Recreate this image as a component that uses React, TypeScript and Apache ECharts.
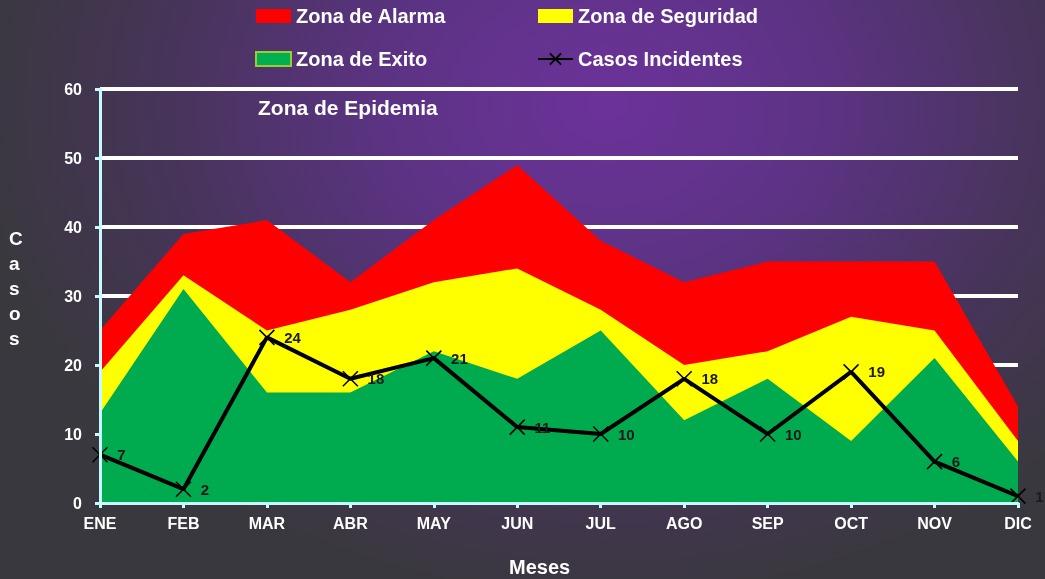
import React, { useEffect, useRef } from "react";
import * as echarts from "echarts";

const months = ["ENE", "FEB", "MAR", "ABR", "MAY", "JUN", "JUL", "AGO", "SEP", "OCT", "NOV", "DIC"];
const alarma = [25, 39, 41, 32, 41, 49, 38, 32, 35, 35, 35, 14];
const seguridad = [19, 33, 25, 28, 32, 34, 28, 20, 22, 27, 25, 9];
const exito = [13, 31, 16, 16, 22, 18, 25, 12, 18, 9, 21, 6];
const casos = [7, 2, 24, 18, 21, 11, 10, 18, 10, 19, 6, 1];
const yTicks = { min: 0, max: 60, interval: 10 };

const FONT = "Arial, 'Liberation Sans', sans-serif";
const AXIS_COLOR = "#c6fbff";

export default function App() {
  const ref = useRef<HTMLDivElement>(null);
  useEffect(() => {
    if (!ref.current) return;
    const chart = echarts.init(ref.current, null, { renderer: "svg" });
    const legendText = { color: "#ffffff", fontSize: 20, fontWeight: "bold" as const, fontFamily: FONT };
    chart.setOption({
      animation: false,
      backgroundColor: "transparent",
      textStyle: { fontFamily: FONT },
      legend: [
        {
          orient: "vertical",
          left: 255,
          top: 6,
          padding: 0,
          itemWidth: 35,
          itemHeight: 14,
          itemGap: 23,
          textStyle: legendText,
          data: [
            { name: "Zona de Alarma", icon: "rect" },
            { name: "Zona de Exito", icon: "rect" },
          ],
        },
        {
          orient: "vertical",
          left: 537,
          top: 6,
          padding: 0,
          itemWidth: 35,
          itemHeight: 14,
          itemGap: 23,
          textStyle: legendText,
          data: [{ name: "Zona de Seguridad", icon: "rect" }, { name: "Casos Incidentes" }],
        },
      ],
      grid: { left: 100, right: 27, top: 89, bottom: 76, containLabel: false },
      xAxis: {
        type: "category",
        data: months,
        boundaryGap: false,
        axisLine: { lineStyle: { color: AXIS_COLOR, width: 3 } },
        axisTick: { show: true, length: 5, alignWithLabel: true, lineStyle: { color: AXIS_COLOR, width: 3 } },
        axisLabel: { color: "#ffffff", fontSize: 16, fontWeight: "bold", margin: 12 },
        splitLine: { show: false },
        z: 10,
      },
      yAxis: [
        {
          type: "value",
          min: yTicks.min,
          max: yTicks.max,
          interval: yTicks.interval,
          axisLine: { show: true, lineStyle: { color: AXIS_COLOR, width: 3 } },
          axisTick: { show: true, length: 5, lineStyle: { color: AXIS_COLOR, width: 3 } },
          axisLabel: { color: "#ffffff", fontSize: 16, fontWeight: "bold", margin: 18 },
          splitLine: { show: false },
          z: 10,
        },
        {
          type: "value",
          position: "left",
          min: yTicks.min,
          max: yTicks.max,
          interval: yTicks.interval,
          axisLine: { show: false },
          axisTick: { show: false },
          axisLabel: { show: false },
          splitLine: { show: true, lineStyle: { color: "#ffffff", width: 4 } },
          z: 0,
        },
      ],
      graphic: [
        {
          type: "text",
          left: 258,
          top: 97,
          style: { text: "Zona de Epidemia", fill: "#ffffff", font: `bold 21px ${FONT}` },
        },
        {
          type: "text",
          left: 9,
          top: 226,
          style: {
            text: "C\na\ns\no\ns",
            fill: "#ffffff",
            font: `bold 19px ${FONT}`,
            lineHeight: 25,
            align: "center",
            width: 18,
          },
        },
        {
          type: "text",
          left: 509,
          top: 557,
          style: { text: "Meses", fill: "#ffffff", font: `bold 20px ${FONT}` },
        },
      ],
      series: [
        {
          name: "Zona de Alarma",
          type: "line",
          data: alarma,
          showSymbol: false,
          lineStyle: { width: 0 },
          itemStyle: { color: "#ff0000" },
          areaStyle: { color: "#ff0000", opacity: 1 },
          z: 2,
        },
        {
          name: "Zona de Seguridad",
          type: "line",
          data: seguridad,
          showSymbol: false,
          lineStyle: { width: 0 },
          itemStyle: { color: "#ffff00" },
          areaStyle: { color: "#ffff00", opacity: 1 },
          z: 3,
        },
        {
          name: "Zona de Exito",
          type: "line",
          data: exito,
          showSymbol: false,
          lineStyle: { width: 0 },
          itemStyle: { color: "#00b050", borderColor: "#9acd32", borderWidth: 1.5 },
          areaStyle: { color: "#00aa4f", opacity: 1 },
          z: 4,
        },
        {
          name: "Casos Incidentes",
          type: "line",
          data: casos,
          symbol: "path://M0 0L10 10M10 0L0 10",
          symbolSize: 15,
          showAllSymbol: true,
          lineStyle: { color: "#000000", width: 4 },
          itemStyle: { color: "transparent", borderColor: "#000000", borderWidth: 1.5 },
          label: {
            show: true,
            position: "right",
            distance: 9,
            color: "#1a1a1a",
            fontSize: 15,
            fontWeight: "bold",
          },
          z: 6,
        },
      ],
    });
    return () => chart.dispose();
  }, []);
  return (
    <div
      style={{
        position: "fixed",
        left: 0,
        top: 0,
        width: 1045,
        height: 579,
        background:
          "radial-gradient(ellipse 60% 85% at 58% 18%, #6c329a 0%, #5c3384 35%, #47345a 70%, #3a383f 100%)",
      }}
    >
      <div ref={ref} style={{ width: 1045, height: 579 }} />
    </div>
  );
}
